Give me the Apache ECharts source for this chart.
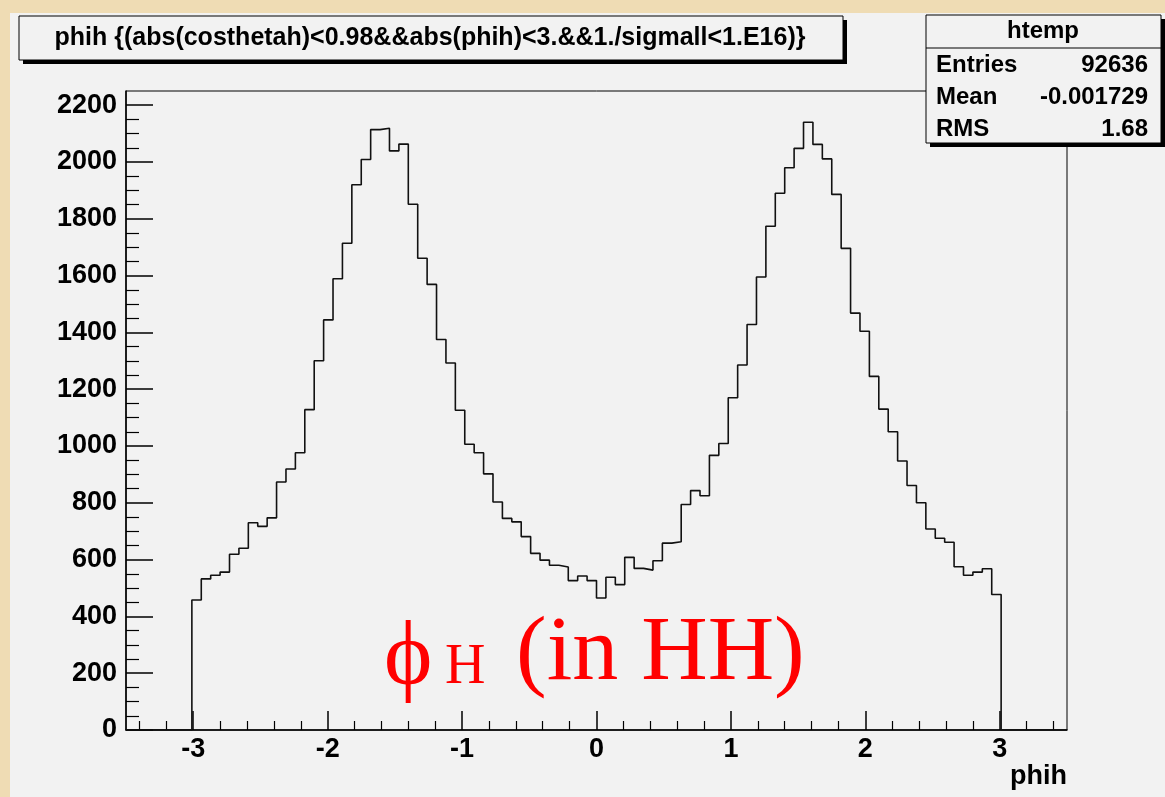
<!DOCTYPE html>
<html><head><meta charset="utf-8">
<script src="https://cdn.jsdelivr.net/npm/echarts@6/dist/echarts.min.js"></script>
<style>html,body{margin:0;padding:0;background:#efdcb4;}#c{width:1165px;height:797px;}</style>
</head><body><div id="c"></div>
<script>
// ---- data ----
const histMin = -3.5, histMax = 3.5, nBins = 100, firstFilledBin = 7;
const counts = [458,532,545,556,619,640,730,717,747,873,
  919,976,1128,1300,1444,1589,1714,1920,2009,2114,
  2119,2039,2063,1851,1661,1569,1375,1292,1126,1006,
  976,902,803,745,733,681,622,598,580,574,
  526,542,526,465,538,512,608,569,563,596,
  658,663,794,843,825,967,1009,1170,1285,1428,
  1595,1774,1890,1980,2048,2140,2062,2011,1886,1696,
  1468,1404,1245,1130,1050,947,861,800,708,675,
  661,575,545,556,568,477];
const xMajorTicks = [-3,-2,-1,0,1,2,3];
const xMinorTicks = [-3.4,-3.2,-2.8,-2.6,-2.4,-2.2,-1.8,-1.6,-1.4,-1.2,-0.8,-0.6,-0.4,-0.2,
  0.2,0.4,0.6,0.8,1.2,1.4,1.6,1.8,2.2,2.4,2.6,2.8,3.2,3.4];
const yMajorTicks = [0,200,400,600,800,1000,1200,1400,1600,1800,2000,2200];
const yMinorTicks = [50,100,150,250,300,350,450,500,550,650,700,750,850,900,950,
  1050,1100,1150,1250,1300,1350,1450,1500,1550,1650,1700,1750,1850,1900,1950,
  2050,2100,2150];
const yMax = 2250;
const titleText = 'phih {(abs(costhetah)<0.98&&abs(phih)<3.&&1./sigmall<1.E16)}';
const statsName = 'htemp';
const statsLabels = ['Entries','Mean','RMS'];
const statsValues = ['92636','-0.001729','1.68'];
const xAxisTitle = 'phih';

// ---- build histogram outline points (bin low edges) ----
const binW = (histMax - histMin) / nBins;
const pts = [];
for (let i = 0; i < nBins; i++) {
  const j = i - firstFilledBin;
  const v = (j >= 0 && j < counts.length) ? counts[j] : 0;
  pts.push([histMin + i * binW, v]);
}
pts.push([histMax, 0]);

const SANS = 'Liberation Sans, Arial, Helvetica, sans-serif';
const SERIF = 'Liberation Serif, Times New Roman, serif';
const lbl = {fontSize: 27, fontWeight: 'bold', fontFamily: SANS, color: '#000'};

const chart = echarts.init(document.getElementById('c'), null, {renderer: 'canvas'});
chart.setOption({
  animation: false,
  backgroundColor: 'transparent',
  grid: {left: 126, top: 91, right: 98, bottom: 67, show: true, backgroundColor: '#f2f2f2',
         borderColor: '#000', borderWidth: 1},
  xAxis: [
    {type: 'value', min: histMin, max: histMax, position: 'bottom',
     axisLine: {show: true, onZero: false, lineStyle: {color: '#000', width: 1.5}},
     axisTick: {show: true, inside: true, length: 19, customValues: xMajorTicks, lineStyle: {color: '#000', width: 1.5}},
     axisLabel: Object.assign({customValues: xMajorTicks, margin: 6, formatter: v => String(v)}, lbl),
     splitLine: {show: false},
     name: xAxisTitle, nameLocation: 'end', nameGap: 0,
     nameTextStyle: Object.assign({align: 'right', verticalAlign: 'top', padding: [33, 0, 0, 0]}, lbl)},
    {type: 'value', min: histMin, max: histMax, position: 'bottom',
     axisLine: {show: false, onZero: false}, axisLabel: {show: false}, splitLine: {show: false},
     axisTick: {show: true, inside: true, length: 9, customValues: xMinorTicks, lineStyle: {color: '#000', width: 1.2}}}
  ],
  yAxis: [
    {type: 'value', min: 0, max: yMax, position: 'left',
     axisLine: {show: true, onZero: false, lineStyle: {color: '#000', width: 1.5}},
     axisTick: {show: true, inside: true, length: 27, customValues: yMajorTicks, lineStyle: {color: '#000', width: 1.5}},
     axisLabel: Object.assign({customValues: yMajorTicks, margin: 9, formatter: v => String(v)}, lbl),
     splitLine: {show: false}},
    {type: 'value', min: 0, max: yMax, position: 'left',
     axisLine: {show: false, onZero: false}, axisLabel: {show: false}, splitLine: {show: false},
     axisTick: {show: true, inside: true, length: 13, customValues: yMinorTicks, lineStyle: {color: '#000', width: 1.2}}}
  ],
  series: [{
    type: 'line', xAxisIndex: 0, yAxisIndex: 0, data: pts, step: 'end',
    symbol: 'none', lineStyle: {color: '#111', width: 1.6}, z: 3, silent: true
  }],
  graphic: [
    {type: 'rect', z: -10, silent: true, shape: {x: 10, y: 13, width: 1155, height: 784}, style: {fill: '#f2f2f2'}},
    // title box
    {type: 'rect', z: 100, silent: true, shape: {x: 23, y: 20, width: 824, height: 44}, style: {fill: '#000'}},
    {type: 'rect', z: 101, silent: true, shape: {x: 19, y: 16, width: 824, height: 44}, style: {fill: '#f2f2f2', stroke: '#000', lineWidth: 1}},
    {type: 'text', z: 102, silent: true, style: {text: titleText, x: 430, y: 38, align: 'center', verticalAlign: 'middle',
      font: 'bold 25px ' + SANS, fill: '#000'}},
    // stats box
    {type: 'rect', z: 100, silent: true, shape: {x: 930, y: 19, width: 235, height: 128}, style: {fill: '#000'}},
    {type: 'rect', z: 101, silent: true, shape: {x: 926, y: 15, width: 235, height: 128}, style: {fill: '#f2f2f2', stroke: '#000', lineWidth: 1}},
    {type: 'line', z: 102, silent: true, shape: {x1: 926, y1: 48, x2: 1161, y2: 48}, style: {stroke: '#000', lineWidth: 1}},
    {type: 'text', z: 102, silent: true, style: {text: statsName, x: 1043, y: 31, align: 'center', verticalAlign: 'middle', font: 'bold 24px ' + SANS, fill: '#000'}},
    {type: 'text', z: 102, silent: true, style: {text: statsLabels[0], x: 936, y: 65, align: 'left', verticalAlign: 'middle', font: 'bold 24px ' + SANS, fill: '#000'}},
    {type: 'text', z: 102, silent: true, style: {text: statsValues[0], x: 1148, y: 65, align: 'right', verticalAlign: 'middle', font: 'bold 24px ' + SANS, fill: '#000'}},
    {type: 'text', z: 102, silent: true, style: {text: statsLabels[1], x: 936, y: 97, align: 'left', verticalAlign: 'middle', font: 'bold 24px ' + SANS, fill: '#000'}},
    {type: 'text', z: 102, silent: true, style: {text: statsValues[1], x: 1148, y: 97, align: 'right', verticalAlign: 'middle', font: 'bold 24px ' + SANS, fill: '#000'}},
    {type: 'text', z: 102, silent: true, style: {text: statsLabels[2], x: 936, y: 129, align: 'left', verticalAlign: 'middle', font: 'bold 24px ' + SANS, fill: '#000'}},
    {type: 'text', z: 102, silent: true, style: {text: statsValues[2], x: 1148, y: 129, align: 'right', verticalAlign: 'middle', font: 'bold 24px ' + SANS, fill: '#000'}},
    // red annotation
    {type: 'text', z: 102, silent: true, style: {text: '\u03D5', x: 384, y: 660, align: 'left', verticalAlign: 'middle', font: '92px ' + SERIF, fill: '#ff0000'}},
    {type: 'text', z: 102, silent: true, style: {text: 'H', x: 445, y: 668, align: 'left', verticalAlign: 'middle', font: '56px ' + SERIF, fill: '#ff0000'}},
    {type: 'text', z: 102, silent: true, style: {text: '(in HH)', x: 516, y: 655, align: 'left', verticalAlign: 'middle', font: '92px ' + SERIF, fill: '#ff0000'}}
  ]
});
</script>
</body></html>
